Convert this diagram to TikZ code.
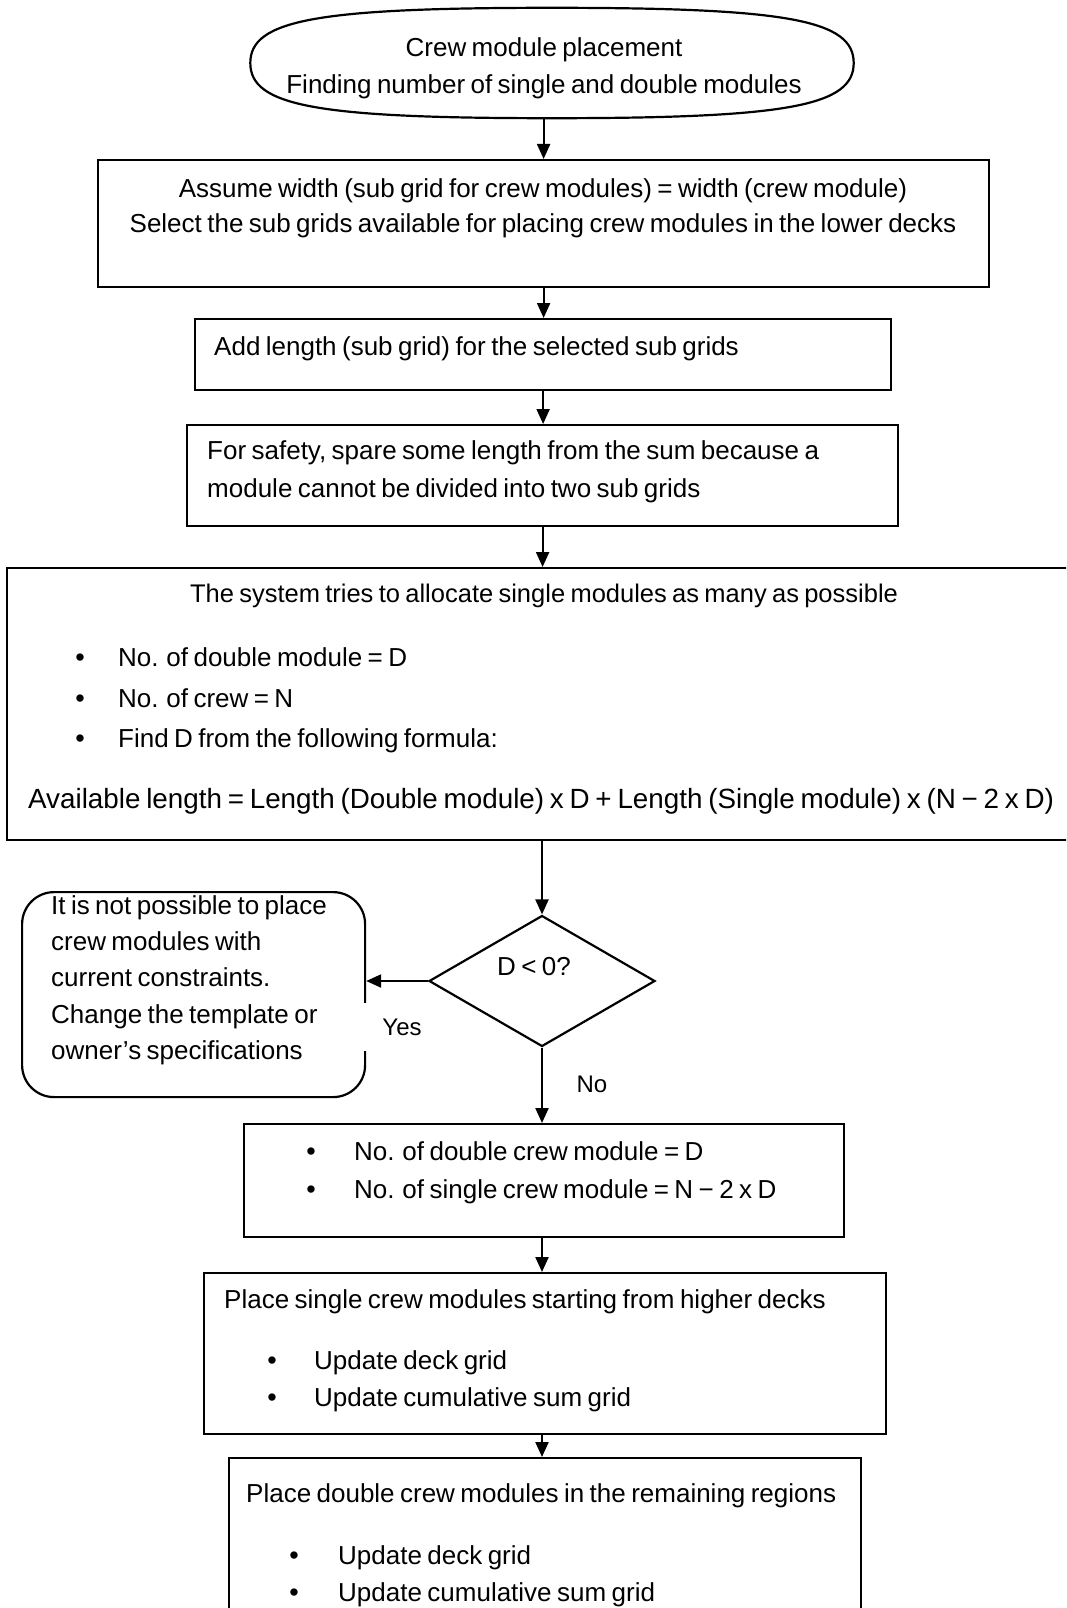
\documentclass[tikz,border=0pt]{standalone}
\usepackage{fontspec}
\setmainfont{Liberation Sans}[WordSpace=0.75]
\usetikzlibrary{shapes.geometric,arrows.meta,calc}

\begin{document}
\begin{tikzpicture}[x=1pt,y=-1pt,
  outline/.style={draw, line width=2.2pt},
  frame/.style={outline, rectangle, inner sep=0pt, anchor=north west},
  arr/.style={line width=2.2pt, -{Triangle[length=15pt,width=13pt]}},
  txt/.style={anchor=base west, inner sep=0pt, font=\fontsize{26}{31}\selectfont},
  ctxt/.style={anchor=base, inner sep=0pt, font=\fontsize{26}{31}\selectfont},
  dot/.style={anchor=base, inner sep=0pt, font=\fontsize{27}{31}\selectfont},
]
\useasboundingbox (0,0) rectangle (1066,1608);
\clip (0,0) rectangle (1066,1608);

% start terminal: a squarish ellipse traced inside its box
\node[rectangle, minimum width=603pt, minimum height=110pt, inner sep=0pt] (start) at (552,63) {};
\draw[line width=2.2pt]
  (start.east)
  .. controls ($(start.east)!0.78!(start.north east)$) and ($(start.north)!0.78!(start.north east)$) .. (start.north)
  .. controls ($(start.north)!0.78!(start.north west)$) and ($(start.west)!0.78!(start.north west)$) .. (start.west)
  .. controls ($(start.west)!0.78!(start.south west)$) and ($(start.south)!0.78!(start.south west)$) .. (start.south)
  .. controls ($(start.south)!0.78!(start.south east)$) and ($(start.east)!0.78!(start.south east)$) .. cycle;
\node[ctxt] (s1) at (544,57) {Crew module placement};
\node[ctxt] (s2) at (544,94) {Finding number of single and double modules};

% step 1
\node[frame, minimum width=891pt, minimum height=127pt] (b1) at (97,159) {};
\node[ctxt] (b1a) at (543,197) {Assume width (sub grid for crew modules) = width (crew module)};
\node[ctxt] (b1b) at (543,232) {Select the sub grids available for placing crew modules in the lower decks};

% step 2
\node[frame, minimum width=696pt, minimum height=71pt] (b2) at (194,318) {};
\node[txt] (b2a) at (214,355) {Add length (sub grid) for the selected sub grids};

% step 3
\node[frame, minimum width=711pt, minimum height=101pt] (b3) at (186,424) {};
\node[txt] (b3a) at (207,459) {For safety, spare some length from the sum because a};
\node[txt] (b3b) at (207,497) {module cannot be divided into two sub grids};

% step 4
\node[frame, minimum width=1080pt, minimum height=272pt] (b4) at (6,567) {};
\node[ctxt, font=\fontsize{25.5}{31}\selectfont] (b4a) at (544,602) {The system tries to allocate single modules as many as possible};
\node[dot] (d41) at (80,666) {•};
\node[txt] (b4b) at (118,666) {No. of double module = D};
\node[dot] (d42) at (80,707) {•};
\node[txt] (b4c) at (118,707) {No. of crew = N};
\node[dot] (d43) at (80,747) {•};
\node[txt] (b4d) at (118,747) {Find D from the following formula:};
\node[txt, font=\fontsize{27.8}{33}\selectfont] (b4e) at (28,808) {Available length = Length (Double module) x D + Length (Single module) x (N − 2 x D)};

% decision
\node[outline, diamond, minimum width=226pt, minimum height=131pt, inner sep=0pt] (dec) at (542,981) {};
\node[ctxt] (dq) at (534,975) {D < 0?};

% failure terminal
\node[frame, rounded corners=32pt, minimum width=343pt, minimum height=205pt] (fail) at (21,891) {};
\node[txt] (f1) at (51,914) {It is not possible to place};
\node[txt] (f2) at (51,950) {crew modules with};
\node[txt] (f3) at (51,986) {current constraints.};
\node[txt] (f4) at (51,1023) {Change the template or};
\node[txt] (f5) at (51,1059) {owner’s specifications};
\node[fill=white, inner xsep=22pt, minimum height=48pt, inner ysep=0pt, font=\fontsize{24}{29}\selectfont] (yes) at (402,1027) {Yes};
\node[fill=white, inner sep=2pt, font=\fontsize{24}{29}\selectfont] (no) at (592,1084) {No};

% step 5
\node[frame, minimum width=600pt, minimum height=113pt] (b5) at (243,1123) {};
\node[dot] (d51) at (311,1160) {•};
\node[txt] (b5a) at (354,1160) {No. of double crew module = D};
\node[dot] (d52) at (311,1198) {•};
\node[txt] (b5b) at (354,1198) {No. of single crew module = N − 2 x D};

% step 6
\node[frame, minimum width=682pt, minimum height=161pt] (b6) at (203,1272) {};
\node[txt] (b6a) at (224,1308) {Place single crew modules starting from higher decks};
\node[dot] (d61) at (272,1369) {•};
\node[txt] (b6b) at (314,1369) {Update deck grid};
\node[dot] (d62) at (272,1406) {•};
\node[txt] (b6c) at (314,1406) {Update cumulative sum grid};

% step 7
\node[frame, minimum width=632pt, minimum height=200pt] (b7) at (228,1457) {};
\node[txt] (b7a) at (246,1502) {Place double crew modules in the remaining regions};
\node[dot] (d71) at (294,1564) {•};
\node[txt] (b7b) at (338,1564) {Update deck grid};
\node[dot] (d72) at (294,1601) {•};
\node[txt] (b7c) at (338,1601) {Update cumulative sum grid};

% connectors
\draw[arr] (b1.north |- start.south) -- (b1.north);
\draw[arr] (b1.south) -- (b1.south |- b2.north);
\draw[arr] (b2.south) -- (b2.south |- b3.north);
\draw[arr] (b3.south) -- (b3.south |- b4.north);
\draw[arr] (dec.north |- b4.south) -- (dec.north);
\draw[arr] (dec.west) -- (dec.west -| fail.east);
\draw[arr] (dec.south) -- (dec.south |- b5.north);
\draw[arr] (b5.south -| dec.south) -- (dec.south |- b6.north);
\draw[arr] (b6.south -| dec.south) -- (dec.south |- b7.north);
\end{tikzpicture}
\end{document}
